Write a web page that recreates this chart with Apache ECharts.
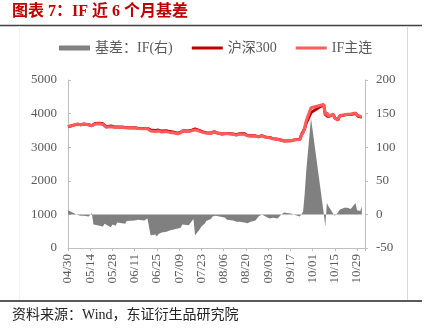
<!DOCTYPE html>
<html>
<head>
<meta charset="utf-8">
<script src="https://cdn.jsdelivr.net/npm/echarts@6/dist/echarts.min.js"></script>
<style>html,body{margin:0;padding:0;background:#fff;}#c{width:429px;height:332px;}</style>
</head>
<body>
<div id="c"></div>
<script>
const dates = ['04/30','05/06','05/07','05/08','05/09','05/10','05/13','05/14','05/15','05/16','05/17','05/20','05/21','05/22','05/23','05/24','05/27','05/28','05/29','05/30','05/31',
'06/03','06/04','06/05','06/06','06/07','06/11','06/12','06/13','06/14','06/17','06/18','06/19','06/20','06/21','06/24','06/25','06/26','06/27','06/28',
'07/01','07/02','07/03','07/04','07/05','07/08','07/09','07/10','07/11','07/12','07/15','07/16','07/17','07/18','07/19','07/22','07/23','07/24','07/25','07/26','07/29','07/30','07/31',
'08/01','08/02','08/05','08/06','08/07','08/08','08/09','08/12','08/13','08/14','08/15','08/16','08/19','08/20','08/21','08/22','08/23','08/26','08/27','08/28','08/29','08/30',
'09/02','09/03','09/04','09/05','09/06','09/09','09/10','09/11','09/12','09/13','09/18','09/19','09/20','09/23','09/24','09/25','09/26','09/27','09/30',
'10/08','10/09','10/10','10/11','10/14','10/15','10/16','10/17','10/18','10/21','10/22','10/23','10/24','10/25','10/28','10/29','10/30','10/31','11/01'];

const csi300 = [3610,3687,3687,3670,3700,3689,3669,3653,3640,3690,3705,3712,3700,3695,3640,3610,3630,3622,3610,3605,3600,
3602,3605,3590,3585,3580,3582,3575,3565,3580,3560,3565,3560,3530,3515,3500,3490,3510,3470,3480,
3490,3480,3465,3450,3455,3420,3460,3450,3505,3490,3480,3485,3505,3530,3545,3495,3460,3455,3430,3430,3420,3400,3465,
3445,3425,3395,3400,3410,3405,3408,3395,3385,3370,3410,3400,3405,3365,3350,3335,3340,3338,3318,3310,3325,3345,
3290,3295,3290,3275,3255,3235,3250,3215,3210,3185,3195,3215,3225,3235,3370,3425,3550,3720,4030,
4270,3975,4015,3905,3980,3870,3850,3810,3930,3955,3955,3970,3955,3975,4005,3950,3910,3912,3895];

const ifMain = [3616,3686,3686,3668,3698,3687,3666,3650,3642,3675,3689,3695,3685,3677,3626,3594,3611,3607,3596,3588,3588,
3589,3594,3576,3575,3568,3573,3564,3557,3570,3551,3557,3554,3525,3484,3470,3457,3481,3442,3453,
3464,3455,3441,3428,3432,3399,3441,3430,3490,3476,3464,3472,3493,3523,3514,3473,3442,3439,3416,3420,3413,3397,3464,
3443,3424,3391,3394,3405,3397,3401,3386,3375,3359,3401,3389,3393,3351,3337,3321,3329,3329,3312,3307,3323,3345,
3286,3290,3284,3268,3250,3229,3246,3214,3210,3188,3196,3215,3224,3232,3365,3429,3580,3785,4173,
4272,3957,4032,3917,3981,3868,3849,3813,3937,3965,3967,3980,3966,3983,4022,3956,3914,3917,3907];

const basis = [6,-1,-1,-2,-2,-2,-3,-3,2,-15,-16,-17,-15,-18,-14,-16,-19,-15,-14,-17,-12,
-13,-11,-14,-10,-12,-9,-11,-8,-10,-9,-8,-6,-5,-31,-30,-33,-29,-28,-27,
-26,-25,-24,-22,-23,-21,-19,-20,-15,-14,-16,-13,-12,-7,-31,-22,-18,-16,-14,-10,-7,-3,-1,
-2,-1,-4,-6,-5,-8,-7,-9,-10,-11,-9,-11,-12,-14,-13,-14,-11,-9,-6,-3,-2,0,
-4,-5,-6,-7,-5,-6,-4,-1,0,3,1,0,-1,-3,-5,4,30,65,143,
2,-18,17,12,1,-2,-1,3,7,10,12,10,11,8,17,6,4,5,12];

const leftTicks = {min:0, max:5000, step:1000};
const rightTicks = {min:-50, max:200, step:50};
const xStepDays = 14;
const xMaxDays = 187;

const YEAR = 2024;
const BASE = Date.UTC(YEAR, 3, 30);
function dayOf(md){ const p = md.split('/').map(Number); return Math.round((Date.UTC(YEAR, p[0]-1, p[1]) - BASE)/86400000); }
function pad(n){ return (n<10?'0':'')+n; }
function mdOf(day){ const d = new Date(BASE + day*86400000); return pad(d.getUTCMonth()+1)+'/'+pad(d.getUTCDate()); }

const xs = dates.map(dayOf);
const serif = "'Liberation Serif','Noto Sans CJK SC',serif";
const labelColor = '#595959';
const axisGray = '#BFBFBF';
const lineIcon = 'path://M0,0H31V3H0Z';

const chart = echarts.init(document.getElementById('c'), null, {renderer:'canvas'});
chart.setOption({
  animation:false,
  backgroundColor:'#ffffff',
  grid:{left:68, right:64, top:80, bottom:84, containLabel:false},
  legend:{
    left:59, top:41, padding:0, itemWidth:31, itemHeight:5, itemGap:19, selectedMode:false,
    textStyle:{fontFamily:serif, fontSize:14, color:labelColor},
    data:[
      {name:'基差：IF(右)', icon:'rect'},
      {name:'沪深300', icon:lineIcon},
      {name:'IF主连', icon:lineIcon}
    ]
  },
  xAxis:{
    type:'value', min:0, max:xMaxDays, interval:xStepDays,
    axisLine:{show:true, onZero:false, lineStyle:{color:axisGray, width:1}},
    axisTick:{show:true, inside:false, length:3, lineStyle:{color:axisGray}},
    splitLine:{show:false},
    axisLabel:{rotate:90, margin:6, fontFamily:serif, fontSize:13, color:labelColor,
      formatter:function(v){ return (v % xStepDays === 0) ? mdOf(v) : ''; }}
  },
  yAxis:[
    {type:'value', min:leftTicks.min, max:leftTicks.max, interval:leftTicks.step, position:'left',
     axisLine:{show:true, lineStyle:{color:axisGray}},
     axisTick:{show:true, inside:true, length:3, lineStyle:{color:axisGray}},
     splitLine:{show:false},
     axisLabel:{margin:11, fontFamily:serif, fontSize:13, color:labelColor, formatter:function(v){return String(v);}}},
    {type:'value', min:rightTicks.min, max:rightTicks.max, interval:rightTicks.step, position:'right',
     axisLine:{show:true, lineStyle:{color:axisGray}},
     axisTick:{show:true, inside:false, length:3, lineStyle:{color:axisGray}},
     splitLine:{show:false},
     axisLabel:{margin:11, fontFamily:serif, fontSize:13, color:labelColor, formatter:function(v){return String(v);}}}
  ],
  series:[
    {name:'基差：IF(右)', type:'line', yAxisIndex:1, symbol:'none', z:1,
     data: xs.map((x,i)=>[x, basis[i]]),
     color:'#808080',
     lineStyle:{width:0, color:'#808080'},
     areaStyle:{color:'#808080', opacity:1}},
    {name:'沪深300', type:'line', yAxisIndex:0, symbol:'none', z:2,
     data: xs.map((x,i)=>[x, csi300[i]]),
     color:'#C00000',
     lineStyle:{width:3, color:'#C00000'}},
    {name:'IF主连', type:'line', yAxisIndex:0, symbol:'none', z:3,
     data: xs.map((x,i)=>[x, ifMain[i]]),
     color:'#FF5B5B',
     lineStyle:{width:3, color:'#FF5B5B'}}
  ],
  graphic:[
    {type:'text', left:12, top:4, style:{text:'图表 7：IF 近 6 个月基差', font:"bold 16px 'Liberation Serif','Noto Sans CJK SC',serif", fill:'#C00000'}},
    {type:'line', shape:{x1:0, y1:25.5, x2:422, y2:25.5}, style:{stroke:'#404040', lineWidth:1.5}},
    {type:'line', shape:{x1:19.5, y1:26, x2:19.5, y2:300}, style:{stroke:'#F2F2F2', lineWidth:1}},
    {type:'line', shape:{x1:407.5, y1:26, x2:407.5, y2:300}, style:{stroke:'#D9D9D9', lineWidth:1}},
    {type:'line', shape:{x1:0, y1:301, x2:422, y2:301}, style:{stroke:'#595959', lineWidth:2}},
    {type:'text', left:12, top:308, style:{text:'资料来源：Wind，东证衍生品研究院', font:"14px 'Liberation Serif','Noto Sans CJK SC',serif", fill:'#222222'}}
  ]
});
</script>
</body>
</html>
